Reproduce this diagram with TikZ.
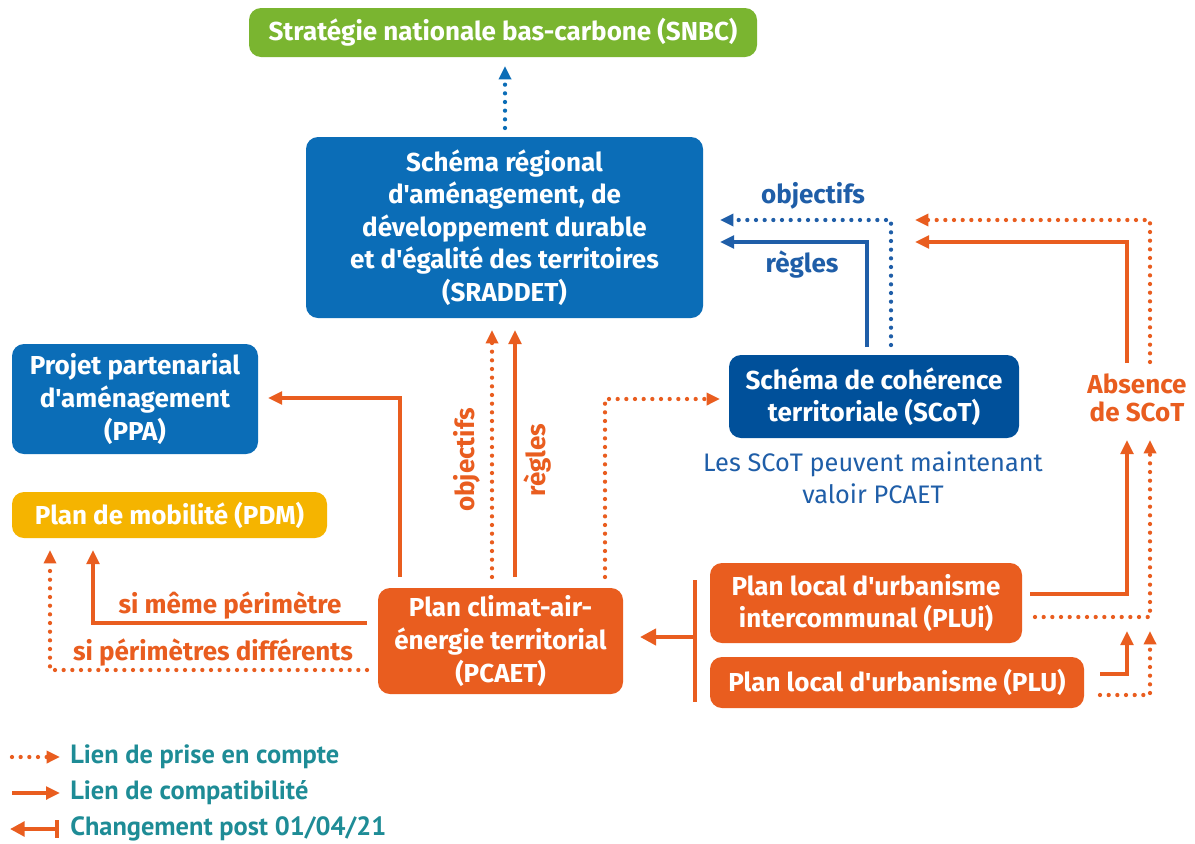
\documentclass[tikz,border=0pt]{standalone}
\usepackage{fontspec}
\setmainfont{Fira Sans}[Ligatures=TeXOff]
\newfontfamily\legfont{PT Sans}
\usetikzlibrary{arrows.meta}
\definecolor{orng}{HTML}{E95D1F}
\definecolor{sblue}{HTML}{0B6DB7}
\definecolor{dblue}{HTML}{00509A}
\definecolor{lblue}{HTML}{1F5EA8}
\definecolor{sgreen}{HTML}{7AB530}
\definecolor{syell}{HTML}{F5B400}
\definecolor{teal}{HTML}{1E8C96}
\begin{document}
\begin{tikzpicture}[x=0.75pt,y=-0.75pt,
  box/.style={rounded corners=9pt, text=white, font=\bfseries\fontsize{19.5}{24.4}\selectfont, align=center, inner sep=0pt},
  lbl/.style={font=\bfseries\fontsize{19.5}{22}\selectfont, inner sep=0pt},
  sol/.style={line width=2.5pt, -{Triangle[length=10.5pt,width=9.5pt]}},
  dotarr/.style={line width=3.2pt, line cap=round, dash pattern=on 0pt off 6.5pt, -{Triangle[length=10pt,width=9pt]}},
  legtext/.style={font=\legfont\bfseries\fontsize{19.8}{20}\selectfont, text=teal, anchor=west, inner sep=0pt},
]
\useasboundingbox (0,0) rectangle (1195,843);
\fill[white] (0,0) rectangle (1195,843);

% boxes
\node[box, fill=sgreen, minimum width=381pt, minimum height=36.75pt] (snbc) at (503,32.5) {Stratégie nationale bas-carbone (SNBC)};
\node[box, fill=sblue, minimum width=297.75pt, minimum height=135.75pt] (sraddet) at (504.5,227.5) {Schéma régional\\d'aménagement, de\\développement durable\\et d'égalité des territoires\\(SRADDET)};
\node[box, fill=sblue, minimum width=184.5pt, minimum height=82.5pt] (ppa) at (135,399) {Projet partenarial\\d'aménagement\\(PPA)};
\node[box, fill=syell, minimum width=236.25pt, minimum height=34.5pt] (pdm) at (169.5,515) {Plan de mobilité (PDM)};
\node[box, fill=orng, minimum width=183.75pt, minimum height=79.5pt] (pcaet) at (500.5,641) {Plan climat-air-\\énergie territorial\\(PCAET)};
\node[box, fill=dblue, minimum width=217.5pt, minimum height=62.25pt] (scot) at (874,396.5) {Schéma de cohérence\\territoriale (SCoT)};
\node[box, fill=orng, minimum width=234pt, minimum height=60pt] (plui) at (866,603) {Plan local d'urbanisme\\intercommunal (PLUi)};
\node[box, fill=orng, minimum width=280.5pt, minimum height=38.25pt] (plu) at (897,682.5) {Plan local d'urbanisme (PLU)};
\node[lbl, text=orng, align=center, font=\bfseries\fontsize{19.5}{20.5}\selectfont] (abs) at (1137,398) {Absence\\de SCoT};
\node[font=\fontsize{19}{24}\selectfont, text=lblue, align=center, inner sep=0pt] (note) at (873,478) {Les SCoT peuvent maintenant\\valoir PCAET};

% SRADDET -> SNBC
\coordinate (s1) at (505,128);
\coordinate (s2) at (505,66);
\draw[dotarr, sblue] (s1) -- (s2);

% SCoT -> SRADDET
\coordinate (b1) at (867,347);
\coordinate (b2) at (891,345);
\coordinate (bt1) at (720,242);
\coordinate (bt2) at (720,220);
\draw[sol, lblue] (b1) -- (b1 |- bt1) -- (bt1);
\draw[dotarr, lblue] (b2) -- (b2 |- bt2) -- (bt2);
\node[lbl, text=lblue] (lobj) at (813,196) {objectifs};
\node[lbl, text=lblue] (lreg) at (802,265) {règles};

% Absence de SCoT -> SRADDET
\coordinate (o1) at (1127,363);
\coordinate (o2) at (1150,362);
\coordinate (ot1) at (915,242);
\coordinate (ot2) at (915,220);
\draw[sol, orng] (o1) -- (o1 |- ot1) -- (ot1);
\draw[dotarr, orng] (o2) -- (o2 |- ot2) -- (ot2);

% PLUi -> Absence
\coordinate (p1) at (1030,594);
\coordinate (p2) at (1035,617);
\coordinate (pt1) at (1127,440);
\coordinate (pt2) at (1150,440);
\draw[sol, orng] (p1) -- (p1 -| pt1) -- (pt1);
\draw[dotarr, orng] (p2) -- (p2 -| pt2) -- (pt2);

% PLU -> up
\coordinate (q1) at (1100,674);
\coordinate (q2) at (1100,695);
\coordinate (qt1) at (1127,631);
\coordinate (qt2) at (1150,631);
\draw[sol, orng] (q1) -- (q1 -| qt1) -- (qt1);
\draw[dotarr, orng] (q2) -- (q2 -| qt2) -- (qt2);

% bar -> PCAET
\coordinate (bar1) at (695,580);
\coordinate (bar2) at (695,702);
\coordinate (barm) at (695,637);
\coordinate (bart) at (640,637);
\draw[orng, line width=3.4pt] (bar1) -- (bar2);
\draw[orng, line width=3.4pt, -{Triangle[length=12pt,width=12pt]}] (barm) -- (bart);

% PCAET -> PPA
\coordinate (c1) at (400,577);
\coordinate (ct1) at (268,398);
\draw[sol, orng] (c1) -- (c1 |- ct1) -- (ct1);
% PCAET -> SRADDET
\coordinate (c2) at (492,577);
\coordinate (ct2) at (492,330);
\coordinate (c3) at (515,577);
\coordinate (ct3) at (515,330);
\draw[dotarr, orng] (c2) -- (ct2);
\draw[sol, orng] (c3) -- (ct3);
\node[lbl, text=orng, rotate=90] (lobj2) at (467,460) {objectifs};
\node[lbl, text=orng, rotate=90] (lreg2) at (538,460) {règles};
% PCAET -> SCoT
\coordinate (c4) at (605,577);
\coordinate (ct4) at (720,399);
\draw[dotarr, orng] (c4) -- (c4 |- ct4) -- (ct4);

% PCAET -> PDM
\coordinate (d1) at (367,623);
\coordinate (dt1) at (93,550);
\coordinate (d2) at (367,670);
\coordinate (dt2) at (50,550);
\draw[sol, orng] (d1) -- (d1 -| dt1) -- (dt1);
\draw[dotarr, orng] (d2) -- (d2 -| dt2) -- (dt2);
\node[lbl, text=orng] (lmeme) at (230,606) {si même périmètre};
\node[lbl, text=orng] (ldiff) at (213,653) {si périmètres différents};

% legend
\coordinate (l1a) at (12,757);
\coordinate (l1b) at (60,757);
\coordinate (l2a) at (12,793);
\coordinate (l2b) at (60,793);
\coordinate (l3a) at (57,829);
\coordinate (l3b) at (10,829);
\draw[dotarr, orng] (l1a) -- (l1b);
\draw[sol, orng] (l2a) -- (l2b);
\draw[orng, line width=3.4pt] ([yshift=6.5pt]l3a) -- ([yshift=-6.5pt]l3a);
\draw[orng, line width=3.4pt, -{Triangle[length=11pt,width=11pt]}] (l3a) -- (l3b);
\node[legtext] (t1) at (70,757) {Lien de prise en compte};
\node[legtext] (t2) at (70,793) {Lien de compatibilité};
\node[legtext] (t3) at (70,829) {Changement post 01/04/21};
\end{tikzpicture}
\end{document}
